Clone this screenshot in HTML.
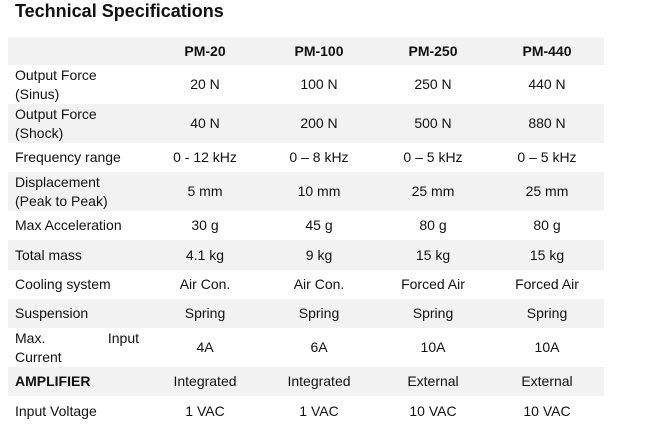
<!DOCTYPE html>
<html><head><style>
body{margin:0;background:#fff;width:651px;height:434px;overflow:hidden;font-family:"Liberation Sans",sans-serif;color:#111;}
.t{position:absolute;left:15px;top:1px;font-size:18px;font-weight:bold;}
.r{position:absolute;left:8px;width:596px;}
.g{background:#f2f2f2;}
.c{position:absolute;top:0;height:100%;display:flex;align-items:center;font-size:14px;line-height:19px;}
.l{left:7px;width:124px;}
.v{justify-content:center;width:114px;}
</style></head><body>
<div class="t">Technical Specifications</div>
<div id="rows"></div>
<script>
var rows=[
[37,28,"",["PM-20","PM-100","PM-250","PM-440"],1,1],
[65,39,"Output Force<br>(Sinus)",["20 N","100 N","250 N","440 N"]],
[104,39,"Output Force<br>(Shock)",["40 N","200 N","500 N","880 N"],0,1],
[143,29,"Frequency range",["0 - 12 kHz","0 – 8 kHz","0 – 5 kHz","0 – 5 kHz"]],
[172,39,"Displacement<br>(Peak to Peak)",["5 mm","10 mm","25 mm","25 mm"],0,1],
[211,29,"Max Acceleration",["30 g","45 g","80 g","80 g"]],
[240,30,"Total mass",["4.1 kg","9 kg","15 kg","15 kg"],0,1],
[270,29,"Cooling system",["Air Con.","Air Con.","Forced Air","Forced Air"]],
[299,29,"Suspension",["Spring","Spring","Spring","Spring"],0,1],
[328,39,"<span style='display:flex;justify-content:space-between;width:124px'><span>Max.</span><span>Input</span></span>Current",["4A","6A","10A","10A"]],
[367,29,"<b>AMPLIFIER</b>",["Integrated","Integrated","External","External"],0,1],
[396,30,"Input Voltage",["1 VAC","1 VAC","10 VAC","10 VAC"]]
];
var h="";
rows.forEach(function(r){
h+='<div class="r'+(r[5]?' g':'')+'" style="top:'+r[0]+'px;height:'+r[1]+'px"><div class="c l"><div>'+r[2]+'</div></div>';
r[3].forEach(function(v,i){h+='<div class="c v" style="left:'+(140+i*114)+'px;'+(r[4]?'font-weight:bold;':'')+'">'+v+'</div>';});
h+='</div>';
});
document.getElementById("rows").innerHTML=h;
</script>
</body></html>
